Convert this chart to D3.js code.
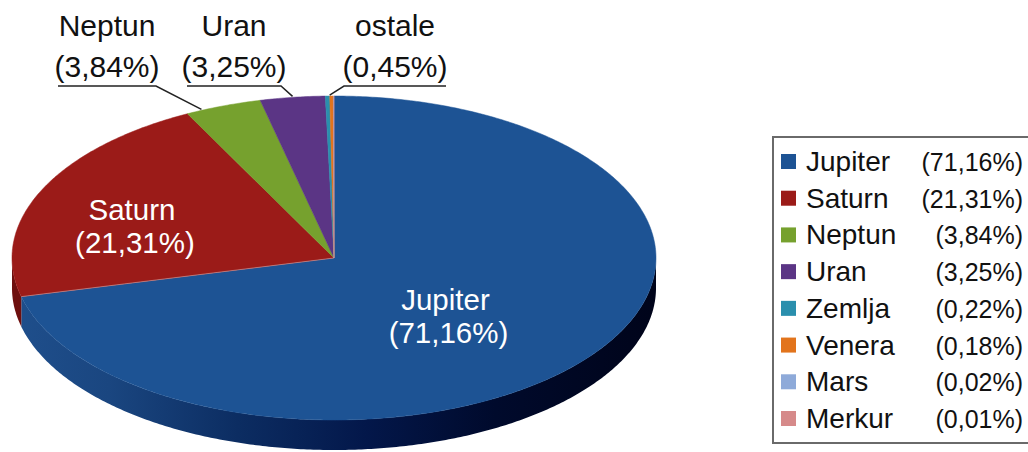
<!DOCTYPE html>
<html>
<head>
<meta charset="utf-8">
<script src="https://cdn.jsdelivr.net/npm/d3@7"></script>
<style>
  body { margin: 0; background: #fff; }
  svg { display: block; font-family: "Liberation Sans", Arial, sans-serif; }
</style>
</head>
<body>
<div id="chart"></div>
<script>
// shares of planetary mass (percent)
var planets = ["Jupiter", "Saturn", "Neptun", "Uran", "Zemlja", "Venera", "Mars", "Merkur"];
var shares = [71.16, 21.31, 3.84, 3.25, 0.22, 0.18, 0.02, 0.01];
var colors = ["#1d5394", "#9b1b18", "#76a12e", "#5b3585", "#2a8fad", "#e2741c", "#8eaad9", "#d68a8a"];
var sideColors = ["url(#jupSide)", "#6e0f0e", "#55761f", "#3f2260", "#1b6a80", "#a95212", "#6a84ad", "#a86464"];

// labels outside the pie (last one groups the small planets)
var outerNames = ["Neptun", "Uran", "ostale"];
var outerValues = [3.84, 3.25, 0.45];
var outerSlices = [[2], [3], [4, 5, 6, 7]];

var width = 1028, height = 452;
var cx = 334, cy = 258, rx = 322, ry = 162, depth = 30;

var fmt = d3.formatLocale({ decimal: ",", thousands: ".", grouping: [3], currency: ["", ""] }).format(".2f");
function pct(v) { return "(" + fmt(v) + "%)"; }

var svg = d3.select("#chart").append("svg")
    .attr("width", width)
    .attr("height", height);

var defs = svg.append("defs");
var grad = defs.append("linearGradient")
    .attr("id", "jupSide")
    .attr("gradientUnits", "userSpaceOnUse")
    .attr("x1", cx - rx).attr("x2", cx + rx)
    .attr("y1", 0).attr("y2", 0);
[[0, "#1f4f8c"], [0.15, "#1a4680"], [0.35, "#0c2d62"], [0.55, "#03174a"], [0.75, "#000a2c"], [1, "#00041a"]]
  .forEach(function(s) { grad.append("stop").attr("offset", s[0]).attr("stop-color", s[1]); });

var pie = d3.pie().sort(null).value(function(d) { return d; })
    .startAngle(0).endAngle(2 * Math.PI);
var slices = pie(shares);

// ellipse coordinates, angle clockwise from 12 o'clock
function ex(a, k) { return cx + rx * (k || 1) * Math.sin(a); }
function ey(a, k) { return cy - ry * (k || 1) * Math.cos(a); }

function samples(a0, a1) {
  var n = Math.max(2, Math.ceil((a1 - a0) / 0.01));
  return d3.range(n + 1).map(function(i) { return a0 + (a1 - a0) * i / n; });
}

// side walls (front half only)
var sideG = svg.append("g");
slices.forEach(function(s, i) {
  var a0 = Math.max(s.startAngle, Math.PI / 2),
      a1 = Math.min(s.endAngle, 3 * Math.PI / 2);
  if (a1 <= a0) return;
  var top = samples(a0, a1).map(function(a) { return [ex(a), ey(a)]; });
  var bot = samples(a0, a1).reverse().map(function(a) { return [ex(a), ey(a) + depth]; });
  sideG.append("path")
    .attr("d", d3.line()(top.concat(bot)) + "Z")
    .attr("fill", sideColors[i]);
});

// top face
var topG = svg.append("g");
slices.forEach(function(s, i) {
  var pts = [[cx, cy]].concat(samples(s.startAngle, s.endAngle).map(function(a) { return [ex(a), ey(a)]; }));
  topG.append("path")
    .attr("d", d3.line()(pts) + "Z")
    .attr("fill", colors[i])
    .attr("stroke", colors[i])
    .attr("stroke-width", 0.5);
});
// faint seam between Saturn and Jupiter
topG.append("line")
  .attr("x1", cx).attr("y1", cy)
  .attr("x2", ex(slices[1].startAngle)).attr("y2", ey(slices[1].startAngle))
  .attr("stroke", "#ffffff").attr("stroke-opacity", 0.35).attr("stroke-width", 1);

// inner labels (Jupiter, Saturn)
var inner = [{ i: 0, k: 0.44 }, { i: 1, k: 0.69 }];
inner.forEach(function(d) {
  var s = slices[d.i], m = (s.startAngle + s.endAngle) / 2;
  var x = ex(m, d.k), y = ey(m, d.k);
  var t = svg.append("text")
    .attr("text-anchor", "middle")
    .attr("fill", "#fff")
    .attr("font-size", 29.5);
  t.append("tspan").attr("x", x).attr("y", y + 8).text(planets[d.i]);
  t.append("tspan").attr("x", x + 3).attr("y", y + 41).text(pct(shares[d.i]));
});

// outer labels with leader lines
var outerX = [107, 234, 395], underY = 86;
var outerHalf = [49, 47, 51];
var outerSide = ["right", "right", "left"];
var outerFrac = [0.2, 0.5, 0.5];   // where along the slice the leader touches
outerNames.forEach(function(name, j) {
  var idx = outerSlices[j];
  var a0 = slices[idx[0]].startAngle, a1 = slices[idx[idx.length - 1]].endAngle;
  var m = a0 + (a1 - a0) * outerFrac[j];
  var px = ex(m), py = ey(m);
  var xl = outerX[j] - outerHalf[j], xr = outerX[j] + outerHalf[j];
  var corner = outerSide[j] === "right" ? xr : xl;
  var start = outerSide[j] === "right" ? xl : xr;
  svg.append("path")
    .attr("d", d3.line()([[start, underY], [corner, underY], [px, py - 1]]))
    .attr("fill", "none")
    .attr("stroke", "#222")
    .attr("stroke-width", 1.5);
  var t = svg.append("text")
    .attr("text-anchor", "middle")
    .attr("fill", "#111")
    .attr("font-size", 30);
  t.append("tspan").attr("x", outerX[j]).attr("y", 36).text(name);
  t.append("tspan").attr("x", outerX[j]).attr("y", 77).text(pct(outerValues[j]));
});

// legend
var legend = svg.append("g");
legend.append("rect")
  .attr("x", 773).attr("y", 137)
  .attr("width", 270).attr("height", 306)
  .attr("fill", "#fff")
  .attr("stroke", "#6a6a6a")
  .attr("stroke-width", 2);

var rowY = d3.scalePoint().domain(planets).range([171, 428]);
var rows = legend.selectAll(".row").data(planets).enter().append("g").attr("class", "row");
rows.append("rect")
  .attr("x", 781)
  .attr("y", function(d) { return rowY(d) - 17; })
  .attr("width", 15).attr("height", 15)
  .attr("fill", function(d, i) { return colors[i]; });
rows.append("text")
  .attr("x", 806)
  .attr("y", function(d) { return rowY(d); })
  .attr("font-size", 28)
  .attr("fill", "#111")
  .text(function(d) { return d; });
rows.append("text")
  .attr("x", 1023)
  .attr("y", function(d) { return rowY(d); })
  .attr("text-anchor", "end")
  .attr("font-size", 25)
  .attr("fill", "#111")
  .text(function(d, i) { return pct(shares[i]); });
</script>
</body>
</html>
